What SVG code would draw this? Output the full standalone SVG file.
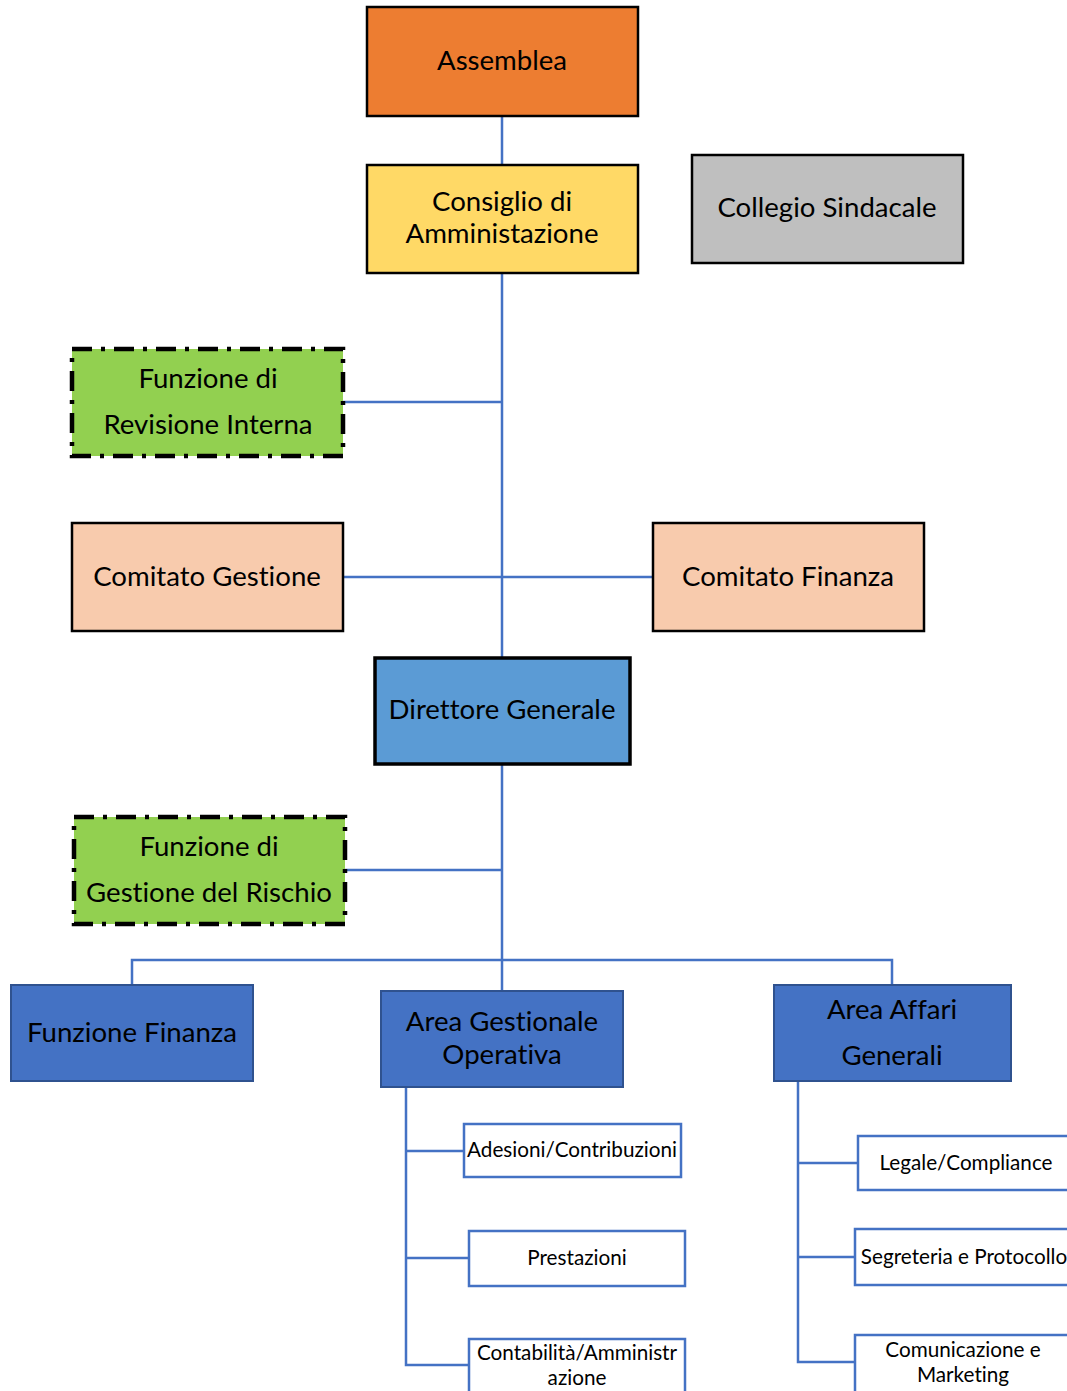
<svg xmlns="http://www.w3.org/2000/svg" width="1067" height="1391" viewBox="0 0 1067 1391">
<style>
text{font-family:Lato,"Open Sans","Liberation Sans",sans-serif;fill:#000;text-anchor:middle;font-variant-ligatures:none}
.big{font-size:27.6px}
.sm{font-size:20.7px}
.box{stroke:#000;stroke-width:2.5}
.dash{stroke:#000;stroke-width:4.5;stroke-dasharray:20 9 4 9}
.blue{fill:#4472C4;stroke:#2F528F;stroke-width:2}
.sub{fill:#fff;stroke:#4472C4;stroke-width:2.5}
.con{stroke:#4472C4;stroke-width:2.5;fill:none}
</style>
<rect width="1067" height="1391" fill="#fff"/>
<g id="connectors">
<path class="con" d="M502 116V165M502 273V658M502 764V960M343 402H502M343 577H653M345 870H502M132 985V960H892V985M502 960V991"/>
<path class="con" d="M406 1087V1365H469M406 1151H464M406 1258H469"/>
<path class="con" d="M798 1081V1362H855M798 1163H858M798 1257H855"/>
</g>
<g id="assemblea"><rect class="box" x="367" y="7" width="271" height="109" fill="#ED7D31"/><text class="big" x="502" y="70">Assemblea</text></g>
<g id="consiglio"><rect class="box" x="367" y="165" width="271" height="108" fill="#FFD966"/><text class="big" x="502" y="211">Consiglio di</text><text class="big" x="502" y="243">Amministazione</text></g>
<g id="collegio"><rect class="box" x="692" y="155" width="271" height="108" fill="#BFBFBF"/><text class="big" x="827" y="217">Collegio Sindacale</text></g>
<g id="revisione"><rect class="dash" x="72" y="349" width="271" height="107" fill="#92D050"/><text class="big" x="208" y="388">Funzione di</text><text class="big" x="208" y="434">Revisione Interna</text></g>
<g id="comitato-gestione"><rect class="box" x="72" y="523" width="271" height="108" fill="#F8CBAD"/><text class="big" x="207" y="586">Comitato Gestione</text></g>
<g id="comitato-finanza"><rect class="box" x="653" y="523" width="271" height="108" fill="#F8CBAD"/><text class="big" x="788" y="586">Comitato Finanza</text></g>
<g id="direttore"><rect x="375" y="658" width="255" height="106" fill="#5B9BD5" stroke="#000" stroke-width="3.5"/><text class="big" x="502" y="719">Direttore Generale</text></g>
<g id="rischio"><rect class="dash" x="74" y="817" width="271" height="107" fill="#92D050"/><text class="big" x="209" y="856">Funzione di</text><text class="big" x="209" y="902">Gestione del Rischio</text></g>
<g id="funzione-finanza"><rect class="blue" x="11" y="985" width="242" height="96"/><text class="big" x="132" y="1042">Funzione Finanza</text></g>
<g id="area-gestionale"><rect class="blue" x="381" y="991" width="242" height="96"/><text class="big" x="502" y="1031">Area Gestionale</text><text class="big" x="502" y="1064">Operativa</text></g>
<g id="area-affari"><rect class="blue" x="774" y="985" width="237" height="96"/><text class="big" x="892" y="1019">Area Affari</text><text class="big" x="892" y="1065">Generali</text></g>
<g id="adesioni"><rect class="sub" x="464" y="1124" width="217" height="53"/><text class="sm" x="572" y="1157">Adesioni/Contribuzioni</text></g>
<g id="prestazioni"><rect class="sub" x="469" y="1231" width="216" height="55"/><text class="sm" x="577" y="1265">Prestazioni</text></g>
<g id="contabilita"><rect class="sub" x="469" y="1339" width="216" height="60"/><text class="sm" x="577" y="1360">Contabilità/Amministr</text><text class="sm" x="577" y="1385">azione</text></g>
<g id="legale"><rect class="sub" x="858" y="1136" width="220" height="54"/><text class="sm" x="966" y="1170">Legale/Compliance</text></g>
<g id="segreteria"><rect class="sub" x="855" y="1229" width="223" height="56"/><text class="sm" x="964" y="1264">Segreteria e Protocollo</text></g>
<g id="comunicazione"><rect class="sub" x="855" y="1335" width="223" height="64"/><text class="sm" x="963" y="1357">Comunicazione e</text><text class="sm" x="963" y="1382">Marketing</text></g>
</svg>
